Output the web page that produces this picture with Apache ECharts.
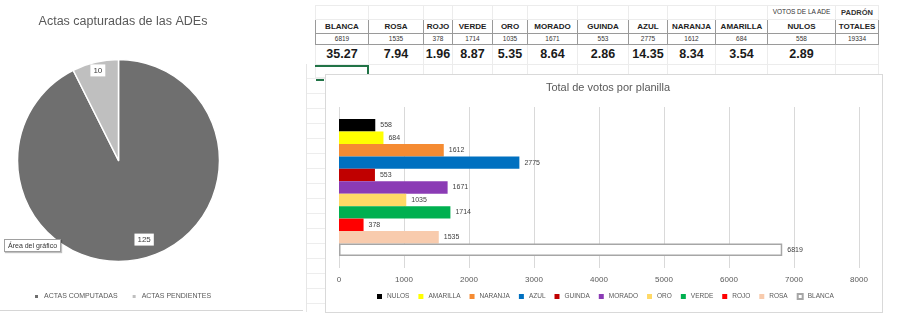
<!DOCTYPE html>
<html>
<head>
<meta charset="utf-8">
<script src="https://cdn.jsdelivr.net/npm/echarts@6/dist/echarts.min.js"></script>
<style>
  html, body { margin: 0; padding: 0; background: #fff; width: 904px; height: 330px; overflow: hidden;
    font-family: "Liberation Sans", Arial, sans-serif; }
  #tbl { position: absolute; left: 315px; top: 5px; border-collapse: collapse; table-layout: fixed; z-index: 0; }
  #tbl td { padding: 0; text-align: center; color: #262626; white-space: nowrap; overflow: hidden; line-height: 1; }
  #tbl tr.pre td { height: 13px; border: 1px solid #ececec; font-size: 6.5px; color: #333; }
  #tbl tr.pre td.padron { font-size: 7.5px; font-weight: bold; color: #333; }
  #tbl tr.head td { height: 13px; border: 1px solid #9a9a9a; font-size: 8px; font-weight: bold; color: #222; }
  #tbl tr.vals td { height: 10px; border: 1px solid #9a9a9a; font-size: 6.5px; color: #333; }
  #tbl tr.pct td { height: 19px; border: 1px solid #ececec; font-size: 12.5px; font-weight: bold; color: #1a1a1a; }
  #tbl tr.blank td { height: 12px; border: 1px solid #ececec; }
  #gap { position: absolute; left: 306px; top: 64px; width: 20px; height: 248px; z-index: 0;
    border-left: 1px solid #e6e6e6;
    background: repeating-linear-gradient(to bottom, transparent 0, transparent 14px, #ededed 14px, #ededed 15px); }
  #barFrame { position: absolute; left: 325px; top: 74px; width: 556px; height: 237px;
    background: #fff; border: 1px solid #d9d9d9; z-index: 1; }
  #pieBottom { position: absolute; left: 0; top: 310px; width: 303px; height: 0; border-top: 1px solid #d6d6d6; z-index: 1; }
  .sel { position: absolute; background: #217346; z-index: 3; }
  #chart { position: absolute; left: 0; top: 0; width: 904px; height: 330px; z-index: 2; }
  #tip { position: absolute; left: 4px; top: 239px; padding: 2px 3px; font-size: 7px; color: #333;
    background: #fff; border: 1px solid #a0a0a0; box-shadow: 1px 1px 1px rgba(0,0,0,0.25); z-index: 4; white-space: nowrap; }
</style>
</head>
<body>
<table id="tbl"></table>
<div id="gap"></div>
<div id="barFrame"></div>
<div id="pieBottom"></div>
<div class="sel" style="left:315px;top:65px;width:54px;height:2px;"></div>
<div class="sel" style="left:367px;top:65px;width:2px;height:9px;"></div>
<div class="sel" style="left:316px;top:79px;width:8px;height:2px;"></div>
<div id="chart"></div>
<div id="tip">Área del gráfico</div>
<script>
// Votes per ballot (planilla), in table order
const planillas = ['BLANCA', 'ROSA', 'ROJO', 'VERDE', 'ORO', 'MORADO', 'GUINDA', 'AZUL', 'NARANJA', 'AMARILLA', 'NULOS'];
const votos = [6819, 1535, 378, 1714, 1035, 1671, 553, 2775, 1612, 684, 558];
const porcentajes = ['35.27', '7.94', '1.96', '8.87', '5.35', '8.64', '2.86', '14.35', '8.34', '3.54', '2.89'];
const totalVotos = 19334;
const colores = ['#ffffff', '#f8cbad', '#ff0000', '#00b050', '#ffd966', '#8b3bb5', '#c00000', '#0070c0', '#f58b32', '#ffff00', '#000000'];

// Tally sheets captured
const actasNombres = ['ACTAS COMPUTADAS', 'ACTAS PENDIENTES'];
const actasValores = [125, 10];
const actasColores = ['#6f6f6f', '#bfbfbf'];

// Value axis of the bar chart
const ejeMax = 8000;
const ejePaso = 1000;

// ---- spreadsheet table ----
const anchos = [53, 55, 29, 40, 35, 50, 51, 39, 48, 52, 68, 43];
const tbl = document.getElementById('tbl');
const cg = document.createElement('colgroup');
anchos.forEach(w => { const c = document.createElement('col'); c.style.width = w + 'px'; cg.appendChild(c); });
tbl.appendChild(cg);
function fila(cls, celdas) {
  const tr = document.createElement('tr');
  tr.className = cls;
  celdas.forEach(c => {
    const td = document.createElement('td');
    td.textContent = c.t;
    if (c.cls) td.className = c.cls;
    tr.appendChild(td);
  });
  tbl.appendChild(tr);
}
const vacias = n => Array.from({ length: n }, () => ({ t: '' }));
fila('pre', vacias(10).concat([{ t: 'VOTOS DE LA ADE' }, { t: 'PADRÓN', cls: 'padron' }]));
fila('head', planillas.map(p => ({ t: p })).concat([{ t: 'TOTALES' }]));
fila('vals', votos.map(v => ({ t: String(v) })).concat([{ t: String(totalVotos) }]));
fila('pct', porcentajes.map(p => ({ t: p })).concat([{ t: '' }]));
fila('blank', vacias(12));

// ---- charts ----
const ordenBarras = planillas.slice().reverse();
const fuente = '"Liberation Sans", Arial, sans-serif';

const barSeries = ordenBarras.map(nombre => {
  const i = planillas.indexOf(nombre);
  const esBlanca = nombre === 'BLANCA';
  return {
    type: 'bar',
    name: nombre,
    data: [votos[i]],
    barGap: '0%',
    barCategoryGap: '15%',
    itemStyle: {
      color: colores[i],
      borderColor: esBlanca ? '#a6a6a6' : colores[i],
      borderWidth: esBlanca ? 1.5 : 0
    },
    label: { show: true, position: 'right', distance: 5, fontSize: 7, color: '#404040', fontFamily: fuente },
    emphasis: { disabled: true }
  };
});

const actasData = actasNombres.map((n, i) => ({ name: n, value: actasValores[i] }));
// the large slice's label sits a little closer to the centre
const actasEtiquetas = actasData.map((d, i) => i === 0
  ? Object.assign({}, d, { label: { offset: [5, -8] } })
  : Object.assign({}, d, { label: { offset: [0, -3] } }));

const option = {
  animation: false,
  backgroundColor: 'transparent',
  textStyle: { fontFamily: fuente },
  title: [
    { text: 'Actas capturadas de las ADEs', left: 118, top: 10, textAlign: 'center',
      textStyle: { fontSize: 12.5, fontWeight: 'normal', color: '#595959', fontFamily: fuente } },
    { text: 'Total de votos por planilla', left: 603, top: 77, textAlign: 'center',
      textStyle: { fontSize: 11, fontWeight: 'normal', color: '#595959', fontFamily: fuente } }
  ],
  legend: [
    { data: actasNombres, left: 33, top: 293, padding: 0, itemWidth: 5, itemHeight: 5, itemGap: 13,
      icon: 'rect', textStyle: { fontSize: 7, color: '#595959', fontFamily: fuente } },
    { data: ordenBarras, left: 377, top: 293, padding: 0, itemWidth: 5, itemHeight: 5, itemGap: 9,
      icon: 'rect', textStyle: { fontSize: 6.5, color: '#595959', fontFamily: fuente } }
  ],
  grid: { left: 339, right: 45, top: 107, bottom: 62 },
  xAxis: {
    type: 'value', min: 0, max: ejeMax, interval: ejePaso,
    axisLine: { show: false }, axisTick: { show: false },
    axisLabel: { fontSize: 8, color: '#595959', margin: 8, fontFamily: fuente, formatter: v => String(v) },
    splitLine: { lineStyle: { color: '#d9d9d9', width: 1 } }
  },
  yAxis: { type: 'category', data: ['Votos'], show: false },
  color: actasColores,
  series: [
    {
      type: 'pie', center: [118.5, 160.5], radius: 101, startAngle: 90, clockwise: true,
      data: actasData,
      itemStyle: { borderColor: '#ffffff', borderWidth: 1.5 },
      label: { show: false }, labelLine: { show: false },
      emphasis: { disabled: true }
    },
    {
      type: 'pie', center: [118.5, 160.5], radius: [72, 101], startAngle: 90, clockwise: true,
      silent: true,
      data: actasEtiquetas,
      itemStyle: { color: 'rgba(0,0,0,0)' },
      label: { show: true, position: 'inside', formatter: '{c}', backgroundColor: '#ffffff',
        padding: [2, 3], fontSize: 8, color: '#404040', fontFamily: fuente },
      labelLine: { show: false },
      emphasis: { disabled: true }
    }
  ].concat(barSeries)
};

const chart = echarts.init(document.getElementById('chart'), null, { renderer: 'canvas' });
chart.setOption(option);
</script>
</body>
</html>
